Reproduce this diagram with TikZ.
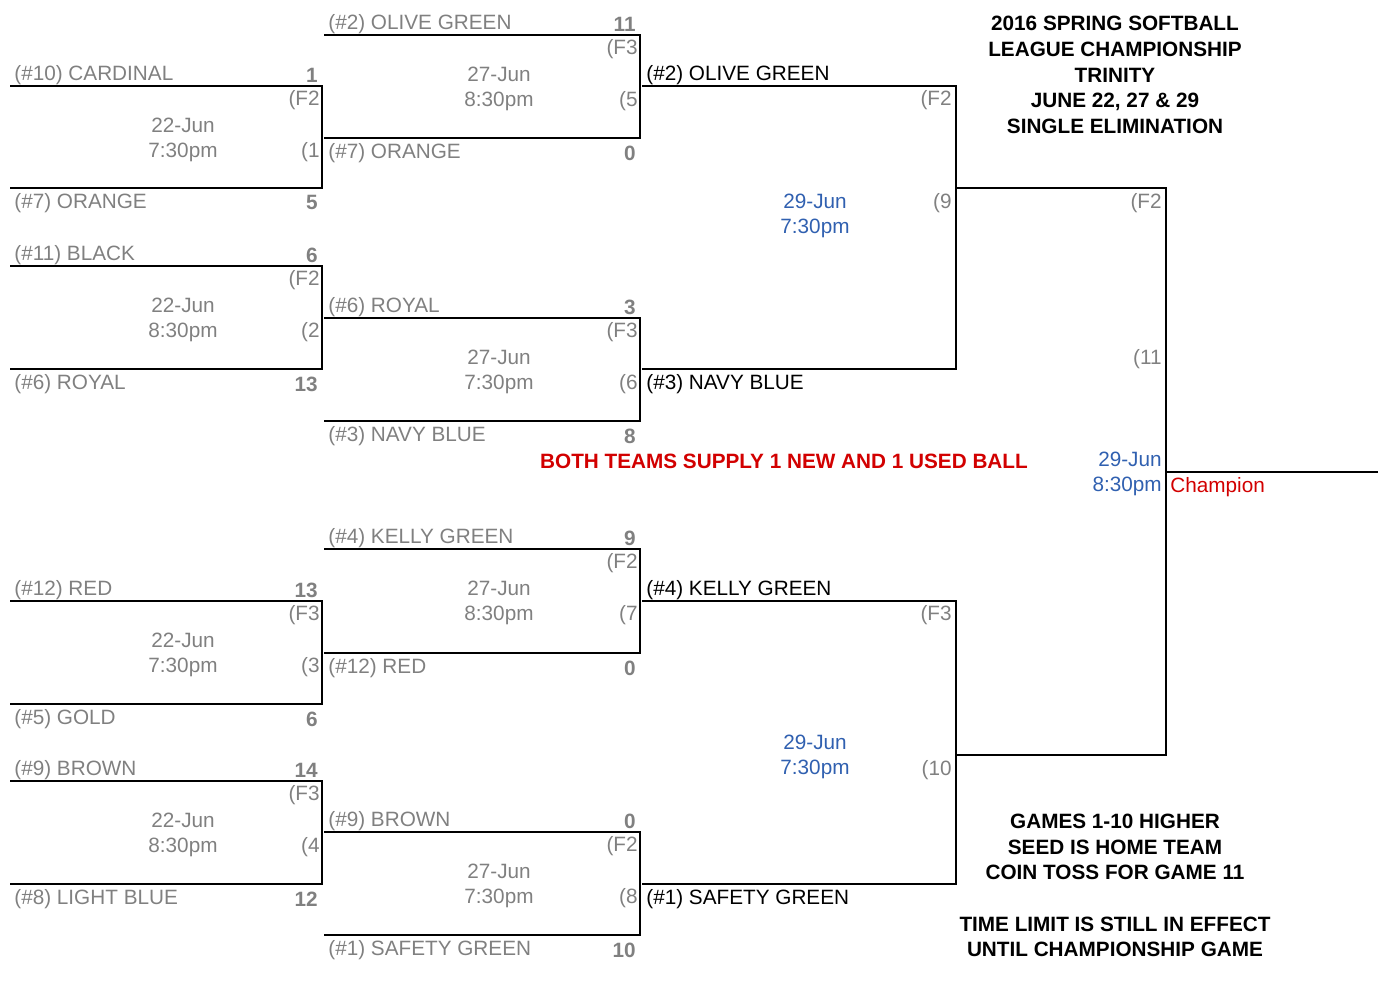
\documentclass[tikz,border=0pt]{standalone}
\usepackage{fontspec}
\setmainfont{Liberation Sans}
\definecolor{teamgray}{RGB}{128,128,128}
\definecolor{dateblue}{RGB}{48,96,176}
\definecolor{notered}{RGB}{210,0,0}
\tikzset{
  team/.style={anchor=west, text=teamgray, inner sep=0pt},
  score/.style={anchor=east, text=teamgray, font=\bfseries, inner sep=0pt},
  tag/.style={anchor=east, text=teamgray, inner sep=0pt},
  when/.style={text=teamgray, align=center, inner sep=0pt},
  bline/.style={line width=1.1pt},
  note/.style={font=\bfseries, align=center, inner sep=0pt}
}
\begin{document}
\fontsize{11.8}{14.7}\selectfont
\begin{tikzpicture}[x=0.02cm, y=-0.02cm, every node/.append style={yshift=-1.1pt}]
\useasboundingbox (0,0) rectangle (1384,983);

%first and second round
\foreach \n/\xa/\xb/\xc/\yt/\yb/\ta/\sa/\tb/\sb/\f/\d/\t/\g in {
  a/10/322/183/86/188/{(\#10) CARDINAL}/1/{(\#7) ORANGE}/5/{(F2}/22-Jun/7:30pm/{(1},
  b/10/322/183/266/369/{(\#11) BLACK}/6/{(\#6) ROYAL}/13/{(F2}/22-Jun/8:30pm/{(2},
  c/10/322/183/601/704/{(\#12) RED}/13/{(\#5) GOLD}/6/{(F3}/22-Jun/7:30pm/{(3},
  d/10/322/183/781/884/{(\#9) BROWN}/14/{(\#8) LIGHT BLUE}/12/{(F3}/22-Jun/8:30pm/{(4},
  e/324/640/499/35/138/{(\#2) OLIVE GREEN}/11/{(\#7) ORANGE}/0/{(F3}/27-Jun/8:30pm/{(5},
  f/324/640/499/318/421/{(\#6) ROYAL}/3/{(\#3) NAVY BLUE}/8/{(F3}/27-Jun/7:30pm/{(6},
  g/324/640/499/549/653/{(\#4) KELLY GREEN}/9/{(\#12) RED}/0/{(F2}/27-Jun/8:30pm/{(7},
  h/324/640/499/832/935/{(\#9) BROWN}/0/{(\#1) SAFETY GREEN}/10/{(F2}/27-Jun/7:30pm/{(8}} {
  \draw[bline] (\xa,\yt) coordinate (\n-nw) -- (\xb,\yt) -- (\xb,\yb) -- (\xa,\yb) coordinate (\n-sw);
  \node[team] (\n-top) at (\xa+4,\yt-13) {\ta};
  \node[score] (\n-topsc) at (\xb-4,\yt-13) {\sa};
  \node[tag] (\n-from) at (\xb-2,\yt+12) {\f};
  \node[when] (\n-when) at (\xc,\yt+52) {\d\\\t};
  \node[tag] (\n-game) at (\xb-2,\yt+64) {\g};
  \node[team] (\n-bot) at (\xa+4,\yb+13) {\tb};
  \node[score] (\n-botsc) at (\xb-4,\yb+13) {\sb};
}

%semifinals
\draw[bline] (642,86) -- (956,86) -- (956,369) -- (642,369);
\draw[bline] (642,601) -- (956,601) -- (956,884) -- (642,884);
\node[team, text=black] (s1) at (646,73) {(\#2) OLIVE GREEN};
\node[team, text=black] (s2) at (646,382) {(\#3) NAVY BLUE};
\node[team, text=black] (s3) at (646,588) {(\#4) KELLY GREEN};
\node[team, text=black] (s4) at (646,897) {(\#1) SAFETY GREEN};
\node[tag] (s1f) at (952,98) {(F2};
\node[tag] (s1g) at (952,201) {(9};
\node[when, text=dateblue] (s1w) at (815,214) {29-Jun\\7:30pm};
\node[tag] (s2f) at (952,613) {(F3};
\node[tag] (s2g) at (952,768) {(10};
\node[when, text=dateblue] (s2w) at (815,755) {29-Jun\\7:30pm};

%final
\draw[bline] (956,188) -- (1166,188) -- (1166,755) -- (956,755);
\draw[bline] (1166,472) -- (1378,472);
\node[tag] (ff) at (1162,201) {(F2};
\node[tag] (fg) at (1162,357) {(11};
\node[tag, text=dateblue, align=right] (fw) at (1162,472) {29-Jun\\8:30pm};
\node[team, text=notered] (champ) at (1170,485) {Champion};

%notes
\node[note] (title) at (1115,73) {2016 SPRING SOFTBALL\\LEAGUE CHAMPIONSHIP\\TRINITY\\JUNE 22, 27 \& 29\\SINGLE ELIMINATION};
\node[note, text=notered] (balls) at (784,459) {BOTH TEAMS SUPPLY 1 NEW AND 1 USED BALL};
\node[note] (rules) at (1115,845) {GAMES 1-10 HIGHER\\SEED IS HOME TEAM\\COIN TOSS FOR GAME 11};
\node[note] (limit) at (1115,935) {TIME LIMIT IS STILL IN EFFECT\\UNTIL CHAMPIONSHIP GAME};
\end{tikzpicture}
\end{document}
